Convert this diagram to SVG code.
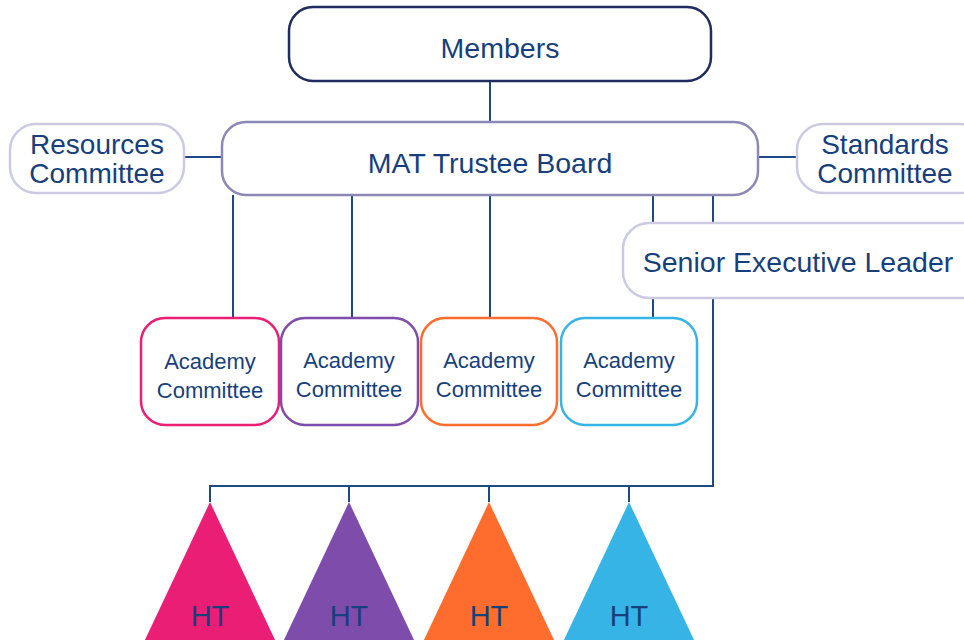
<svg xmlns="http://www.w3.org/2000/svg" width="964" height="640" viewBox="0 0 964 640">
<style>
text{font-family:"Liberation Sans",Arial,sans-serif;fill:#173f7c;text-anchor:middle}
.big{font-size:28.5px}
.two{font-size:28px}
.sm{font-size:22px}
.ln{stroke:#1d4a85;stroke-width:2;fill:none}
.box{fill:#fff;stroke-width:2.5}
</style>
<rect width="964" height="640" fill="#fff"/>
<g id="connectors">
<line class="ln" x1="490" y1="81" x2="490" y2="122"/>
<line class="ln" x1="184" y1="157" x2="222" y2="157"/>
<line class="ln" x1="758" y1="157" x2="797" y2="157"/>
<line class="ln" x1="233" y1="195" x2="233" y2="318"/>
<line class="ln" x1="352" y1="195" x2="352" y2="318"/>
<line class="ln" x1="490" y1="195" x2="490" y2="318"/>
<line class="ln" x1="653" y1="195" x2="653" y2="223"/>
<line class="ln" x1="653" y1="298" x2="653" y2="318"/>
<line class="ln" x1="713" y1="195" x2="713" y2="223"/>
<polyline class="ln" points="713,298 713,486 210,486 210,502"/>
<line class="ln" x1="349" y1="486" x2="349" y2="502"/>
<line class="ln" x1="489" y1="486" x2="489" y2="502"/>
<line class="ln" x1="629" y1="486" x2="629" y2="502"/>
</g>
<g id="members">
<rect class="box" x="289" y="7" width="422" height="74" rx="24" stroke="#1e2d5e"/>
<text class="big" x="500" y="58">Members</text>
</g>
<g id="board">
<rect class="box" x="222" y="122" width="536" height="73" rx="24" stroke="#8b88b6"/>
<text class="big" x="490" y="173">MAT Trustee Board</text>
</g>
<g id="resources">
<rect class="box" x="10" y="124" width="174" height="69" rx="26" stroke="#cccae3"/>
<text class="two" x="97" y="154">Resources</text>
<text class="two" x="97" y="183">Committee</text>
</g>
<g id="standards">
<rect class="box" x="797" y="124" width="190" height="69" rx="26" stroke="#cccae3"/>
<text class="two" x="885" y="154">Standards</text>
<text class="two" x="885" y="183">Committee</text>
</g>
<g id="sel">
<rect class="box" x="623" y="223" width="370" height="75" rx="26" stroke="#cccae3"/>
<text class="big" x="798" y="272">Senior Executive Leader</text>
</g>
<g id="ac1">
<rect class="box" x="141" y="318" width="138" height="107" rx="24" stroke="#e91e74"/>
<text class="sm" x="210" y="369">Academy</text>
<text class="sm" x="210" y="398">Committee</text>
</g>
<g id="ac2">
<rect class="box" x="281" y="318" width="137" height="107" rx="24" stroke="#7e4caa"/>
<text class="sm" x="349" y="368">Academy</text>
<text class="sm" x="349" y="397">Committee</text>
</g>
<g id="ac3">
<rect class="box" x="421" y="318" width="136" height="107" rx="24" stroke="#ff6d2e"/>
<text class="sm" x="489" y="368">Academy</text>
<text class="sm" x="489" y="397">Committee</text>
</g>
<g id="ac4">
<rect class="box" x="561" y="318" width="136" height="107" rx="24" stroke="#37b4e6"/>
<text class="sm" x="629" y="368">Academy</text>
<text class="sm" x="629" y="397">Committee</text>
</g>
<g id="ht1">
<polygon points="210,502 276,642 144,642" fill="#e91e74"/>
<text x="210" y="626" font-size="29">HT</text>
</g>
<g id="ht2">
<polygon points="349,502 415,642 283,642" fill="#7e4caa"/>
<text x="349" y="626" font-size="29">HT</text>
</g>
<g id="ht3">
<polygon points="489,502 555,642 423,642" fill="#ff6d2e"/>
<text x="489" y="626" font-size="29">HT</text>
</g>
<g id="ht4">
<polygon points="629,502 695,642 563,642" fill="#37b4e6"/>
<text x="629" y="626" font-size="29">HT</text>
</g>
</svg>
